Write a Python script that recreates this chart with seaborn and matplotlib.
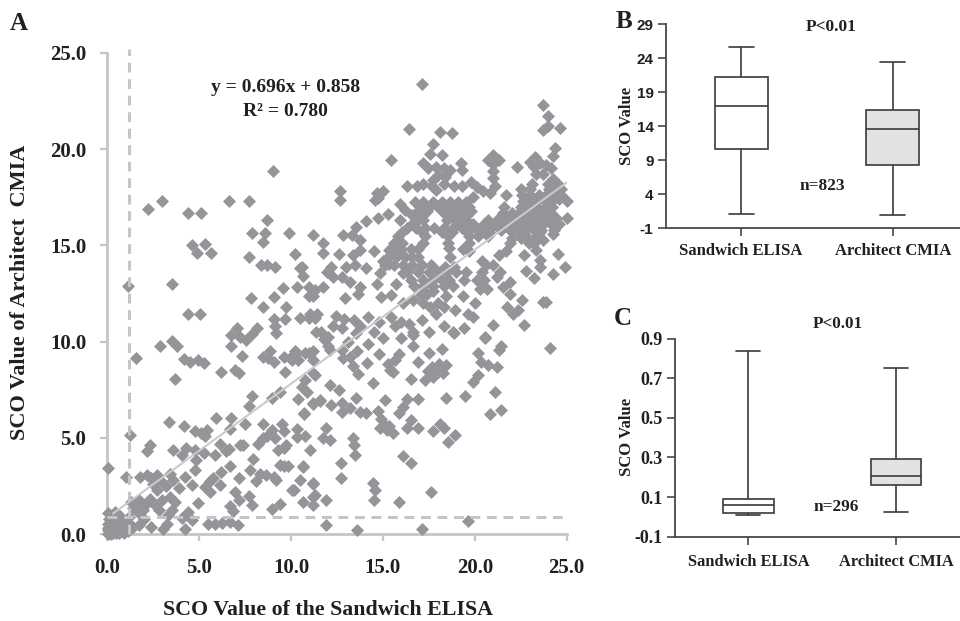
"""Correlation of SCO values: scatter (A) and box plots (B, C)."""
import matplotlib
matplotlib.use("Agg")
import matplotlib.pyplot as plt
import pandas as pd
import seaborn as sns

W, H = 960, 621
SERIF = "Liberation Serif"
SANS = "Liberation Sans"
INK = "#231f20"
GREY = "#c4c5c7"
MARK = "#939598"

# ---- panel A, points (elisa, cmia) ----
near_zero = [
    (0.05, 1.1), (0.4, 1.15), (0.7, 0.95), (0.1, 0.8), (0.35, 0.8), (0.6, 0.75), (0.9, 0.7), (1.1, 0.6),
    (0.02, 0.55), (0.2, 0.6), (0.45, 0.55), (0.7, 0.5), (0.95, 0.45), (0.05, 0.35), (0.25, 0.4), (0.5, 0.35),
    (0.75, 0.3), (1.0, 0.25), (0.02, 0.2), (0.15, 0.2), (0.35, 0.2), (0.55, 0.18), (0.8, 0.15), (0.1, 0.08),
    (0.3, 0.05), (0.45, 0.08), (0.65, 0.05), (0.9, 0.05), (0.02, 0.02), (0.2, 0.0), (1.15, 0.15), (0.6, 0.3),
    (0.3, 0.5), (0.85, 0.5), (0.15, 0.4), (0.4, 0.3),
]
low_left = [
    (0.02, 3.45), (1.0, 3.0), (1.25, 5.15), (1.8, 2.95), (2.15, 3.1), (2.4, 2.9), (2.7, 3.1), (2.85, 2.8),
    (3.4, 3.15), (3.6, 2.8), (4.25, 3.0), (4.6, 2.55), (5.75, 2.9), (5.6, 2.75), (5.3, 2.45), (6.15, 2.55),
    (5.6, 2.2), (7.75, 3.35), (8.3, 3.15), (8.65, 3.1), (9.05, 3.0), (9.2, 2.8), (8.1, 2.75), (10.5, 2.8),
    (10.15, 2.3), (11.2, 2.65), (6.95, 2.2), (7.15, 1.8), (7.7, 2.0), (7.85, 1.5), (6.7, 1.45), (6.85, 1.2),
    (9.4, 1.55), (8.95, 1.3), (10.65, 1.7), (11.2, 1.5), (11.3, 2.05), (4.95, 1.65), (3.4, 1.95), (3.7, 1.7),
    (3.5, 1.25), (2.7, 2.3), (2.3, 1.85), (2.15, 1.6), (1.8, 1.45), (1.4, 1.35), (2.8, 1.25), (1.95, 1.25),
    (1.6, 1.2), (4.4, 1.15), (4.05, 0.85), (4.6, 0.75), (4.25, 0.3), (3.25, 0.55), (3.05, 0.3), (2.4, 0.4),
    (1.7, 0.5), (1.4, 0.4), (5.5, 0.55), (5.85, 0.55), (6.25, 0.6), (6.7, 0.65), (7.1, 0.5), (2.3, 4.65),
    (2.15, 4.35), (3.55, 4.4), (4.05, 4.1), (4.3, 4.5), (4.75, 4.4), (5.25, 4.2), (6.15, 4.7), (6.6, 4.45),
    (6.45, 4.3), (7.2, 4.65), (7.4, 4.65), (9.3, 4.4), (9.6, 4.5), (9.75, 4.65), (11.05, 4.4), (5.85, 4.1),
    (4.85, 3.85), (4.75, 3.35), (7.95, 3.9), (6.7, 3.55), (6.2, 3.25), (7.15, 2.9), (9.6, 3.55), (9.85, 3.55),
    (10.65, 3.5), (3.35, 5.85), (4.15, 5.6), (7.5, 5.75), (8.5, 5.75), (9.5, 5.7), (9.6, 5.35), (4.75, 5.35),
    (5.1, 5.25), (5.4, 5.4), (5.3, 5.1), (6.7, 5.45), (8.95, 5.4), (8.7, 5.1), (8.5, 5.0), (9.15, 5.0),
    (8.2, 4.7), (10.3, 5.45), (10.3, 5.05), (10.75, 5.1), (5.9, 6.05), (6.75, 6.05), (10.7, 6.25),
    (1.3, 1.7), (1.7, 1.8), (2.5, 2.6), (1.7, 1.1), (2.6, 1.5), (3.0, 1.8), (1.2, 0.9),
    (2.0, 0.8), (3.3, 1.0), (3.9, 2.4), (3.2, 2.5),
]
upper_left = [
    (1.14, 12.9), (3.52, 13.0), (2.2, 16.9), (3.0, 17.3), (4.4, 16.7), (5.1, 16.7), (6.6, 17.3), (7.7, 17.3),
    (9.0, 18.85), (8.7, 16.3), (7.9, 15.65), (8.6, 15.65), (8.5, 15.15), (9.9, 15.65), (11.2, 15.55), (4.6, 15.0),
    (5.3, 15.05), (4.9, 14.6), (5.65, 14.6), (7.7, 14.4), (10.2, 14.55), (8.35, 14.0), (8.7, 14.0), (9.1, 13.9),
    (10.6, 13.9), (10.5, 13.8), (10.65, 13.4), (9.55, 12.8), (10.3, 12.85), (10.95, 12.85), (11.3, 12.7),
    (10.95, 12.35), (11.2, 12.35), (7.8, 12.25), (9.05, 12.3), (8.45, 11.8), (9.7, 11.8), (4.4, 11.45),
    (5.05, 11.45), (9.05, 11.2), (9.65, 11.2), (10.5, 11.25), (10.95, 11.25), (11.3, 11.25), (9.1, 10.8),
    (9.2, 10.45), (6.75, 10.35), (7.05, 10.7), (7.2, 10.25), (7.55, 10.1), (7.85, 10.4), (8.15, 10.7),
    (11.35, 10.5), (2.85, 9.8), (3.5, 10.05), (3.8, 9.75), (1.55, 9.15), (4.2, 9.1), (4.5, 8.95), (4.95, 9.05),
    (5.25, 8.9), (6.75, 9.75), (7.35, 9.25), (8.5, 9.2), (8.85, 9.5), (8.75, 9.15), (9.05, 8.95), (9.6, 9.2),
    (10.05, 9.05), (10.2, 9.5), (10.4, 9.05), (10.75, 9.4), (11.1, 9.4), (11.2, 9.05), (6.2, 8.4), (3.7, 8.05),
    (6.95, 8.55), (7.15, 8.35), (9.65, 8.45), (11.3, 8.25), (10.75, 8.0), (10.6, 7.65), (10.85, 7.4), (7.85, 7.2),
    (8.95, 7.05), (9.4, 7.4), (7.7, 6.65), (10.4, 7.0), (11.2, 6.8), (11.6, 6.9),
]
lower_right = [
    (24.1, 9.65), (21.45, 9.75), (21.3, 9.55), (20.55, 10.2), (20.2, 9.4), (20.35, 8.95), (20.7, 8.8), (21.2, 8.7),
    (20.2, 8.25), (19.9, 7.9), (21.1, 7.4), (21.45, 6.45), (20.8, 6.25), (19.45, 7.2), (18.45, 7.1), (18.2, 9.6),
    (17.5, 9.4), (16.9, 8.95), (16.5, 8.05), (18.05, 8.85), (18.45, 8.8), (17.65, 8.7), (18.0, 8.45), (17.45, 8.5),
    (17.3, 8.0), (17.7, 8.15), (18.25, 8.35), (16.9, 7.0), (16.3, 7.0), (16.1, 6.6), (15.9, 6.3), (15.1, 6.95),
    (14.75, 6.4), (14.9, 6.0), (15.1, 5.65), (14.85, 5.5), (15.35, 5.6), (15.55, 5.25), (15.2, 5.4), (16.55, 5.95),
    (16.3, 5.5), (16.9, 5.5), (17.7, 5.35), (18.1, 5.75), (18.3, 5.5), (18.9, 5.15), (18.55, 4.8), (16.1, 4.05),
    (16.55, 3.7), (17.6, 2.2), (15.9, 1.7), (14.45, 2.65), (14.55, 2.3), (14.5, 1.8), (12.7, 3.7), (12.7, 2.9),
    (13.5, 4.1), (13.4, 4.65), (13.35, 5.0), (11.9, 0.5), (13.6, 0.2), (17.1, 0.25), (19.65, 0.7), (11.9, 1.8),
    (11.2, 2.6), (11.2, 1.95), (10.05, 2.3), (10.65, 3.55), (9.4, 3.6), (11.9, 5.5), (11.75, 5.0), (12.1, 4.9),
    (12.1, 7.75), (12.6, 7.5), (12.2, 6.7), (12.75, 6.8), (12.75, 6.35), (13.2, 6.55), (13.55, 7.05), (13.75, 6.35),
    (14.1, 6.3), (11.2, 6.75), (11.55, 6.95), (10.7, 6.3), (14.45, 7.85), (13.65, 8.3), (13.35, 8.75), (14.15, 8.9),
    (14.8, 9.35), (13.6, 9.5), (15.9, 9.35), (15.65, 9.05), (15.3, 8.85), (15.4, 8.55), (15.55, 8.45), (16.65, 10.35),
    (16.65, 9.8), (18.8, 10.5), (12.85, 9.15), (12.75, 9.55), (12.0, 9.75), (11.8, 10.15), (11.2, 9.5), (10.95, 9.4),
    (10.3, 9.4), (9.95, 9.15), (11.2, 8.35), (12.1, 9.55),
    (12.3, 10.8), (12.9, 11.2), (13.1, 10.0), (14.8, 11.0), (15.0, 10.2), (13.2, 9.2), (14.2, 9.9), (16.0, 11.0),
    (16.4, 10.9), (16.0, 10.2), (17.5, 10.5), (18.3, 10.8), (19.4, 10.7),
]
upper_fan = [
    (17.1, 23.4), (23.7, 22.3), (24.0, 21.7), (24.0, 21.2), (23.7, 21.0), (24.65, 21.1), (16.4, 21.05), (18.1, 20.9),
    (18.75, 20.85), (17.75, 20.25), (24.35, 20.05), (24.25, 19.65), (17.55, 19.75), (18.2, 19.7), (15.45, 19.45),
    (17.2, 19.3), (19.25, 19.25), (19.3, 18.9), (21.0, 19.7), (20.7, 19.45), (21.3, 19.45), (21.0, 19.2), (21.0, 18.85),
    (21.0, 18.5), (21.1, 18.1), (22.3, 19.05), (23.3, 19.6), (23.0, 19.35), (23.55, 19.25), (23.2, 19.05), (23.9, 19.15),
    (24.15, 19.0), (23.7, 18.7), (23.35, 18.7), (24.25, 18.45), (17.45, 19.0), (17.9, 19.05), (18.3, 19.0), (18.65, 18.9),
    (18.0, 18.65), (18.4, 18.55), (17.75, 18.4), (16.3, 18.1), (16.85, 18.1), (17.2, 18.2), (17.65, 18.1), (17.9, 17.85),
    (18.3, 18.2), (18.85, 18.1), (19.3, 18.1), (19.8, 18.3), (20.1, 18.05), (20.45, 17.8), (20.8, 17.7), (19.9, 17.5),
    (12.65, 17.8), (12.65, 17.35), (15.0, 17.8), (14.65, 17.7), (14.55, 17.35), (14.75, 17.45), (16.75, 17.25),
    (15.95, 17.15), (16.2, 16.85), (15.95, 16.3), (15.3, 16.65), (14.75, 16.4), (14.1, 16.25), (13.55, 15.95),
    (12.85, 15.55), (13.3, 15.55), (13.75, 15.3), (11.75, 15.1), (11.75, 14.6), (12.6, 14.55), (13.35, 14.5), (14.5, 14.7),
    (13.75, 14.75), (12.2, 13.9), (11.95, 13.6), (12.3, 13.35), (11.75, 12.85), (13.0, 13.9), (13.5, 14.0), (14.1, 13.8),
    (12.75, 13.35), (13.2, 13.1), (13.75, 12.85), (13.65, 12.5), (12.95, 12.25), (14.85, 13.55), (14.65, 13.0),
    (15.35, 14.05), (15.7, 14.4), (15.35, 14.75), (15.9, 15.1), (15.0, 14.2), (16.1, 13.55), (15.7, 13.0), (15.45, 12.4),
    (14.9, 12.3), (16.1, 12.0), (16.65, 12.15), (11.05, 11.45), (11.4, 11.45), (12.45, 11.35), (11.65, 10.5), (12.0, 10.25),
    (12.75, 10.7), (13.45, 11.1), (14.2, 11.3), (13.75, 10.8), (14.5, 10.5), (15.45, 11.3), (15.65, 10.8), (13.55, 10.45),
    (16.65, 10.5), (17.1, 11.1), (18.85, 10.45), (20.55, 10.25), (21.0, 10.85), (19.35, 12.35), (18.9, 11.65), (20.0, 12.0),
    (19.65, 11.45), (19.9, 11.3), (17.05, 12.4), (17.4, 12.5), (17.75, 12.65), (18.0, 12.0), (17.55, 11.8), (18.3, 11.8),
    (17.2, 12.0), (18.45, 12.35), (17.9, 11.45), (20.3, 12.75), (20.65, 12.75), (21.35, 13.6), (21.2, 13.35), (21.9, 13.1),
    (21.55, 12.85), (21.9, 12.5), (22.55, 12.15), (21.75, 11.8), (22.1, 11.45), (22.65, 10.85), (22.35, 11.65), (23.7, 12.05),
    (23.9, 12.05), (23.2, 13.3), (22.8, 13.65), (22.7, 14.5), (23.35, 14.75), (23.55, 14.25), (23.55, 13.9), (24.5, 14.55),
    (24.9, 13.85), (24.25, 13.5), (24.25, 15.6), (23.7, 15.3), (23.55, 15.7),
]
core_right = [
    (23.1, 18.2), (24.0, 18.2), (24.5, 18.2), (22.5, 17.9), (23.0, 17.9), (24.05, 17.9), (24.4, 17.9), (24.7, 17.9),
    (21.7, 17.6), (22.55, 17.6), (23.0, 17.6), (23.5, 17.6), (23.9, 17.6), (24.3, 17.6), (24.7, 17.6), (22.6, 17.3),
    (23.0, 17.3), (23.4, 17.3), (23.8, 17.3), (24.2, 17.3), (24.6, 17.4), (25.0, 17.3), (21.6, 17.0), (22.5, 17.0),
    (22.95, 17.0), (23.4, 17.0), (23.85, 17.0), (24.2, 17.0), (21.55, 16.7), (22.0, 16.7), (22.4, 16.7), (22.85, 16.7),
    (23.3, 16.7), (23.7, 16.7), (24.15, 16.7), (21.3, 16.4), (21.8, 16.4), (22.2, 16.4), (22.7, 16.4), (23.1, 16.4),
    (23.5, 16.4), (24.0, 16.4), (24.4, 16.4), (25.0, 16.4), (21.5, 16.1), (22.0, 16.1), (22.4, 16.1), (22.9, 16.1),
    (23.3, 16.1), (23.7, 16.1), (24.15, 16.1), (24.6, 16.1), (21.45, 15.8), (21.9, 15.8), (22.3, 15.8), (22.75, 15.8),
    (23.2, 15.8), (23.6, 15.8), (24.3, 15.8), (22.05, 15.4), (22.5, 15.4), (22.9, 15.4), (23.3, 15.4), (21.9, 15.1),
    (22.95, 15.1), (23.2, 15.1), (21.7, 14.7), (21.3, 14.5),
]
core_mid = [
    (17.2, 17.25), (17.7, 17.25), (18.2, 17.25), (18.65, 17.25), (19.1, 17.25), (19.5, 17.25), (17.0, 17.0), (17.5, 17.0),
    (18.0, 17.0), (18.4, 17.0), (18.9, 17.0), (19.3, 17.0), (19.7, 17.0), (16.9, 16.8), (17.4, 16.8), (18.45, 16.8),
    (18.95, 16.8), (19.4, 16.8), (19.8, 16.8), (16.6, 16.6), (17.2, 16.6), (18.3, 16.7), (18.7, 16.6), (19.2, 16.6),
    (19.6, 16.6), (16.9, 16.3), (17.2, 16.3), (18.5, 16.3), (19.0, 16.3), (19.5, 16.3), (20.7, 16.3), (16.6, 16.1),
    (19.05, 16.1), (19.9, 16.1), (20.5, 16.1), (21.05, 16.1), (16.3, 15.9), (16.8, 15.9), (17.3, 15.9), (17.8, 15.9),
    (18.3, 15.9), (18.8, 15.9), (19.3, 15.9), (19.8, 15.9), (20.4, 15.9), (20.9, 15.9), (16.05, 15.7), (17.15, 15.7),
    (18.2, 15.7), (18.75, 15.7), (19.6, 15.7), (20.25, 15.7), (20.75, 15.7), (15.8, 15.5), (17.3, 15.5), (18.55, 15.5),
    (19.7, 15.5), (20.2, 15.5), (20.7, 15.5), (15.6, 15.1), (16.05, 15.1), (17.2, 15.1), (18.55, 15.1), (19.7, 15.1),
    (15.5, 14.8), (16.0, 14.8), (16.55, 14.8), (16.9, 14.8), (18.6, 14.85), (19.35, 14.8), (19.7, 14.7), (15.3, 14.4),
    (15.7, 14.4), (16.2, 14.4), (16.6, 14.4), (16.9, 14.4), (18.65, 14.4), (20.4, 14.2), (15.1, 14.0), (15.6, 14.0),
    (16.1, 14.0), (16.6, 14.0), (17.1, 14.0), (17.6, 14.0), (17.75, 13.9), (18.4, 13.85), (18.85, 13.9), (20.6, 14.0),
    (21.0, 14.0), (16.3, 13.6), (16.9, 13.6), (17.5, 13.6), (18.0, 13.6), (18.5, 13.6), (19.0, 13.6), (19.5, 13.6),
    (20.4, 13.6), (16.5, 13.2), (17.2, 13.2), (17.7, 13.2), (18.2, 13.2), (18.6, 13.2), (19.4, 13.2), (20.1, 13.2),
    (20.5, 13.2), (16.7, 12.9), (17.2, 12.9), (17.7, 12.9), (18.3, 12.9), (18.8, 12.9),
]
all_points = near_zero + low_left + upper_left + lower_right + upper_fan + core_right + core_mid
elisa = [p[0] for p in all_points]
cmia = [p[1] for p in all_points]

fit_x = [0.3, 25.8]
fit_y = [1.067, 18.815]
cut_x, cut_y = 1.2, 0.88

# ---- panels B and C: whisker low, Q1, median, Q3, whisker high ----
methods = ["Sandwich ELISA", "Architect CMIA"]
b_elisa = [1.06, 10.7, 17.0, 21.2, 25.7]
b_cmia = [0.96, 8.3, 13.6, 16.4, 23.5]
c_elisa = [0.008, 0.02, 0.062, 0.089, 0.839]
c_cmia = [0.026, 0.16, 0.209, 0.29, 0.75]
b_ticks = [-1, 4, 9, 14, 19, 24, 29]
c_ticks = [-0.1, 0.1, 0.3, 0.5, 0.7, 0.9]
a_ticks = [0, 5, 10, 15, 20, 25]


def new_axes(fig, left, top, right, bottom):
    return fig.add_axes([left / W, 1 - bottom / H, (right - left) / W, (bottom - top) / H])


def label(fig, x, y, s, size, **kw):
    fig.text(x / W, 1 - y / H, s, fontsize=size, ha=kw.pop("ha", "center"), va="center", color=INK, **kw)


def box_panel(ax, low_values, high_values, box_width, cap_width):
    df = pd.DataFrame({
        "method": [methods[0]] * 5 + [methods[1]] * 5,
        "sco": low_values + high_values,
    })
    sns.boxplot(data=df, x="method", y="sco", hue="method", order=methods, dodge=False, legend=False,
                palette={methods[0]: "white", methods[1]: "#e1e2e4"}, whis=(0, 100), width=box_width,
                linecolor="#3a3a3c", linewidth=1.2, capwidths=cap_width, ax=ax)
    sns.despine(ax=ax)
    ax.set_xlabel("")
    ax.set_ylabel("")
    for side in ["left", "bottom"]:
        ax.spines[side].set_linewidth(1.3)
        ax.spines[side].set_color("#48484a")
    ax.tick_params(axis="both", length=5.5, width=1.2, color="#48484a", labelcolor=INK)
    ax.set_xticks([0, 1], ["", ""])


sns.set_theme(style="ticks")
plt.rcParams["font.family"] = [SERIF, "DejaVu Serif"]
plt.rcParams["font.weight"] = "bold"

fig = plt.figure(figsize=(W / 100, H / 100), dpi=100)

# A
ax = new_axes(fig, 107.3, 52.7, 566.7, 534.3)
sns.scatterplot(x=elisa, y=cmia, marker="D", color=MARK, s=44, linewidth=0, clip_on=False, zorder=3, ax=ax)
sns.lineplot(x=fit_x, y=fit_y, color="#c9cacc", linewidth=1.5, zorder=4, ax=ax, errorbar=None)
ax.plot([cut_x, cut_x], [0, 25.2], color=GREY, lw=2.2, ls=(0, (3.2, 2.2)), clip_on=False, zorder=4)
ax.plot([0, 24.85], [cut_y, cut_y], color=GREY, lw=2.2, ls=(0, (3.2, 2.2)), clip_on=False, zorder=4)
ax.set_xlim(0, 25)
ax.set_ylim(0, 25)
sns.despine(ax=ax)
for side in ["left", "bottom"]:
    ax.spines[side].set_linewidth(2)
    ax.spines[side].set_color(GREY)
ax.set_xticks(a_ticks, [f"{v:.1f}" for v in a_ticks])
ax.set_yticks(a_ticks, [f"{v:.1f}" for v in a_ticks])
ax.tick_params(axis="x", length=5, width=1.6, color=GREY, labelcolor=INK, labelsize=15, pad=12)
ax.tick_params(axis="y", length=5, width=1.6, color=GREY, labelcolor=INK, labelsize=15, pad=10)

label(fig, 19, 23, "A", 18)
label(fig, 285.5, 88, "y = 0.696x + 0.858", 14)
label(fig, 285, 112, "R² = 0.780", 14)
label(fig, 328, 610, "SCO Value of the Sandwich ELISA", 15.75)
label(fig, 20, 292, "SCO Value of Architect  CMIA", 16, rotation=90)

# B
ax_b = new_axes(fig, 666, 24.3, 960, 228)
box_panel(ax_b, b_elisa, b_cmia, 0.348, 0.165)
ax_b.set_xlim(-0.498, 1.444)
ax_b.set_ylim(-1, 29)
ax_b.set_yticks(b_ticks, [str(v) for v in b_ticks])
for t in ax_b.get_yticklabels():
    t.set_family(SANS)
    t.set_fontsize(11)

label(fig, 624, 22, "B", 18)
label(fig, 830.7, 27, "P<0.01", 12.5)
label(fig, 822.7, 186, "n=823", 12.4)
label(fig, 741, 251, methods[0], 12)
label(fig, 892.7, 251, methods[1], 12)
label(fig, 626.7, 126, "SCO Value", 12, rotation=90)

# C
ax_c = new_axes(fig, 675, 338.7, 960, 536.7)
box_panel(ax_c, c_elisa, c_cmia, 0.343, 0.165)
ax_c.set_xlim(-0.496, 1.433)
ax_c.set_ylim(-0.1, 0.9)
ax_c.set_yticks(c_ticks, [f"{v:.1f}" for v in c_ticks])
for t in ax_c.get_yticklabels():
    t.set_fontsize(13)

label(fig, 623, 319, "C", 18)
label(fig, 838, 324, "P<0.01", 12.3)
label(fig, 836, 507, "n=296", 12.4)
label(fig, 749, 561.7, methods[0], 11.8)
label(fig, 896, 561.7, methods[1], 11.8)
label(fig, 627, 436.7, "SCO Value", 12, rotation=90)

fig.savefig("out.png", dpi=100)
